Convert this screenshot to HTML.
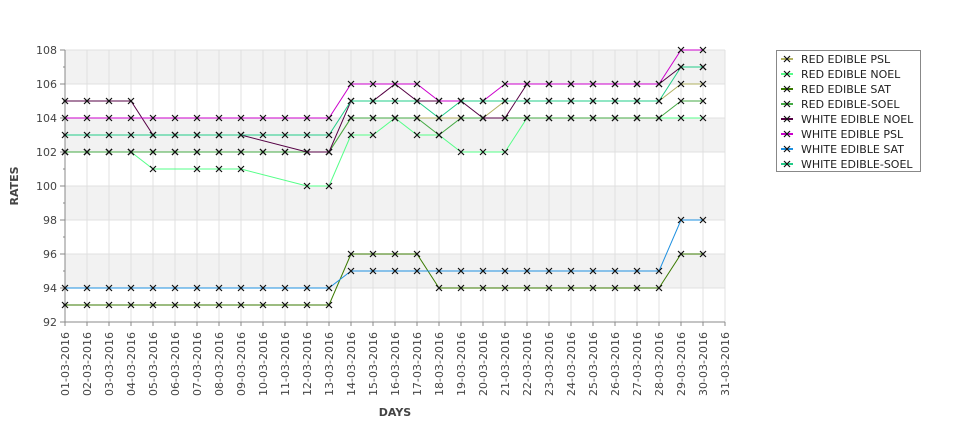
<!DOCTYPE html>
<html><head><meta charset="utf-8">
<style>
body{margin:0;background:#fff;width:975px;height:429px;overflow:hidden;font-family:"DejaVu Sans","Liberation Sans",sans-serif;}
svg text{font-family:"DejaVu Sans","Liberation Sans",sans-serif;}
</style></head>
<body>
<svg id="chart" width="975" height="429" viewBox="0 0 975 429" xmlns="http://www.w3.org/2000/svg">
<g id="bands"></g>
<g id="grid"></g>
<g id="axes"></g>
<g id="series"></g>
<text x="18" y="186" font-size="11" font-weight="bold" fill="#444" text-anchor="middle" transform="rotate(-90 18 186)">RATES</text>
<text x="395" y="416" font-size="11" font-weight="bold" fill="#444" text-anchor="middle">DAYS</text>
<g id="legend"></g>
</svg>
<script>
const categories = ["01-03-2016","02-03-2016","03-03-2016","04-03-2016","05-03-2016","06-03-2016","07-03-2016","08-03-2016","09-03-2016","10-03-2016","11-03-2016","12-03-2016","13-03-2016","14-03-2016","15-03-2016","16-03-2016","17-03-2016","18-03-2016","19-03-2016","20-03-2016","21-03-2016","22-03-2016","23-03-2016","24-03-2016","25-03-2016","26-03-2016","27-03-2016","28-03-2016","29-03-2016","30-03-2016","31-03-2016"];
const yTicks = [92,94,96,98,100,102,104,106,108];
const seriesNames = ["RED EDIBLE  PSL","RED EDIBLE NOEL","RED EDIBLE SAT","RED EDIBLE-SOEL","WHITE EDIBLE NOEL","WHITE EDIBLE PSL","WHITE EDIBLE SAT","WHITE EDIBLE-SOEL"];
const seriesColors = ["#b0b060","#55ff88","#3a7a00","#44aa44","#550044","#cc00cc","#1e90e0","#22cc88"];
const redPsl   = [102,102,102,102,102,102,102,102,102,102,102,102,102,104,104,104,104,104,104,104,105,105,105,105,105,105,105,105,106,106];
const redNoel  = [102,102,102,102,101,null,101,101,101,null,null,100,100,103,103,104,103,103,102,102,102,104,104,104,104,104,104,104,104,104];
const redSat   = [93,93,93,93,93,93,93,93,93,93,93,93,93,96,96,96,96,94,94,94,94,94,94,94,94,94,94,94,96,96];
const redSoel  = [102,102,102,102,102,102,102,102,102,102,102,102,102,104,104,104,104,103,104,104,104,104,104,104,104,104,104,104,105,105];
const whiteNoel= [105,105,105,105,103,103,103,103,103,null,null,102,102,105,105,106,105,105,105,104,104,106,106,106,106,106,106,106,107,107];
const whitePsl = [104,104,104,104,104,104,104,104,104,104,104,104,104,106,106,106,106,105,105,105,106,106,106,106,106,106,106,106,108,108];
const whiteSat = [94,94,94,94,94,94,94,94,94,94,94,94,94,95,95,95,95,95,95,95,95,95,95,95,95,95,95,95,98,98];
const whiteSoel= [103,103,103,103,103,103,103,103,103,103,103,103,103,105,105,105,105,104,105,105,105,105,105,105,105,105,105,105,107,107];
const seriesData = [redPsl,redNoel,redSat,redSoel,whiteNoel,whitePsl,whiteSat,whiteSoel];

const NS="http://www.w3.org/2000/svg";
const X0=65, X1=725, Y0=50, Y1=322, YMIN=92, YMAX=108;
const xs = i => X0 + i*(X1-X0)/(categories.length-1);
const ys = v => Y1 - (v-YMIN)*(Y1-Y0)/(YMAX-YMIN);
function mk(tag, attrs, parent){const e=document.createElementNS(NS,tag);for(const k in attrs)e.setAttribute(k,attrs[k]);parent.appendChild(e);return e;}
const bands=document.getElementById('bands'), grid=document.getElementById('grid'), axes=document.getElementById('axes'), ser=document.getElementById('series'), leg=document.getElementById('legend');

for(let i=0;i<yTicks.length-1;i++){
  const r=mk('rect',{x:X0,y:ys(yTicks[i+1]),width:X1-X0,height:ys(yTicks[i])-ys(yTicks[i+1]),fill:(i%2===1)?'#f2f2f2':'#ffffff'},bands);
  
  
}
categories.forEach((c,i)=>{
  const l=mk('line',{x1:xs(i),x2:xs(i),y1:Y0,y2:Y1,stroke:'#e0e0e0','stroke-width':1},grid);
  
  
  const tk=mk('line',{x1:xs(i),x2:xs(i),y1:Y1,y2:Y1+4,stroke:'#888'},axes);
  
  
  const t=mk('text',{x:0,y:0,'font-size':11,fill:'#444','text-anchor':'end',transform:`translate(${xs(i)+4},${Y1+10}) rotate(-90)`},axes);
  t.textContent=c;
  
  
});
yTicks.forEach(v=>{
  const l=mk('line',{x1:X0,x2:X1,y1:ys(v),y2:ys(v),stroke:'#e0e0e0'},grid);
  
  
  const tk=mk('line',{x1:X0-5,x2:X0,y1:ys(v),y2:ys(v),stroke:'#888'},axes);
  
  
  const t=mk('text',{x:X0-8,y:ys(v)+4,'font-size':11,fill:'#444','text-anchor':'end'},axes);
  t.textContent=v;
  
  
  if(v<YMAX){
    const m=mk('line',{x1:X0-2,x2:X0,y1:ys(v+1),y2:ys(v+1),stroke:'#888'},axes);
    
    
  }
});
const ya=mk('line',{x1:X0,x2:X0,y1:Y0,y2:Y1,stroke:'#888'},axes);


const xa=mk('line',{x1:X0,x2:X1,y1:Y1,y2:Y1,stroke:'#888'},axes);



function cross(g,x,y,col){
  const p=mk('path',{d:`M${x-3},${y-3}L${x+3},${y+3}M${x-3},${y+3}L${x+3},${y-3}`,stroke:col,'stroke-width':1.2,fill:'none'},g);
  
  
}
seriesData.forEach((d,si)=>{
  const g=mk('g',{},ser);
  
  
  const pts=[];d.forEach((v,i)=>{if(v!==null)pts.push([xs(i),ys(v)]);});
  const pl=mk('polyline',{points:pts.map(p=>p.join(',')).join(' '),fill:'none',stroke:seriesColors[si],'stroke-width':1},g);
  
  
  pts.forEach(p=>cross(g,p[0],p[1],'#111'));
});

const lb=mk('rect',{x:776.5,y:50.5,width:144,height:121,fill:'#fff',stroke:'#888'},leg);


seriesNames.forEach((n,i)=>{
  const g=mk('g',{},leg);
  
  
  const y=59+i*15;
  const l=mk('line',{x1:781,x2:793,y1:y,y2:y,stroke:seriesColors[i],'stroke-width':2},g);
  
  
  cross(g,787,y,'#111');
  const t=mk('text',{x:801,y:y+4,'font-size':11,fill:'#222'},g);
  t.textContent=n;
  
  
});
</script>
</body></html>
